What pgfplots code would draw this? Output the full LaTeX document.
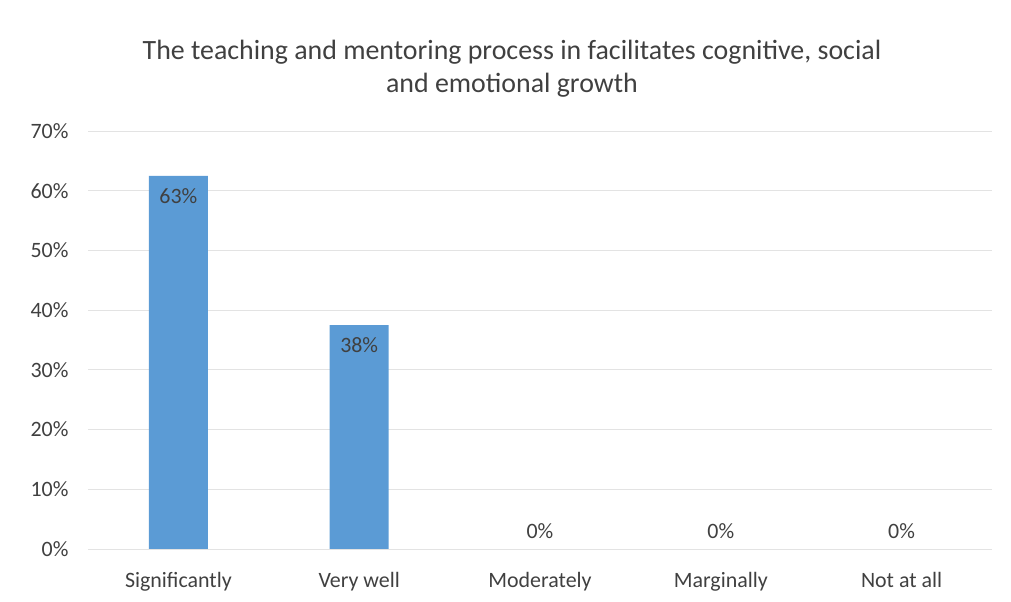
\documentclass[border=0pt]{standalone}
\usepackage{pgfplots}
\pgfplotsset{compat=1.18}
\usepackage{fontspec}
\setmainfont{Carlito}
\definecolor{barblue}{HTML}{5B9BD5}
\definecolor{txt}{HTML}{404040}
\definecolor{gridc}{HTML}{E3E3E3}
\begin{document}
\begin{tikzpicture}[x=1bp,y=1bp]
\useasboundingbox (0,0) rectangle (1011,602);
\node[align=center, font=\fontsize{28}{33}\selectfont, text=txt] at (512,533) {The teaching and mentoring process in facilitates cognitive, social\\and emotional growth};
\begin{axis}[at={(88bp,53bp)}, anchor=south west, scale only axis,
  width=904bp, height=418bp,
  xmin=-0.5, xmax=4.5, ymin=0, ymax=70,
  xtick={0,1,2,3,4},
  xticklabels={Significantly, Very well, Moderately, Marginally, Not at all},
  ytick={0,10,...,70},
  yticklabel={\pgfmathprintnumber{\tick}\%},
  ymajorgrids, grid style={gridc, line width=0.8pt},
  axis line style={draw=none}, major tick length=0pt,
  tick label style={font=\fontsize{22}{26}\selectfont, text=txt},
  yticklabel style={xshift=-16bp},
  xticklabel style={yshift=-20bp},
  /pgf/number format/assume math mode=true,
  ybar, bar width=59bp,
  nodes near coords, point meta=explicit symbolic,
  every node near coord/.style={font=\fontsize{22}{26}\selectfont, text=txt},
]
\addplot[fill=barblue, draw=none, bar shift=0pt,
  every node near coord/.append style={anchor=north, yshift=-9bp}]
  coordinates {(0,62.5) [63\%] (1,37.5) [38\%]};
\addplot[fill=none, draw=none, bar shift=0pt,
  every node near coord/.append style={anchor=south, yshift=7bp}]
  coordinates {(2,0) [0\%] (3,0) [0\%] (4,0) [0\%]};
\end{axis}
\end{tikzpicture}
\end{document}
